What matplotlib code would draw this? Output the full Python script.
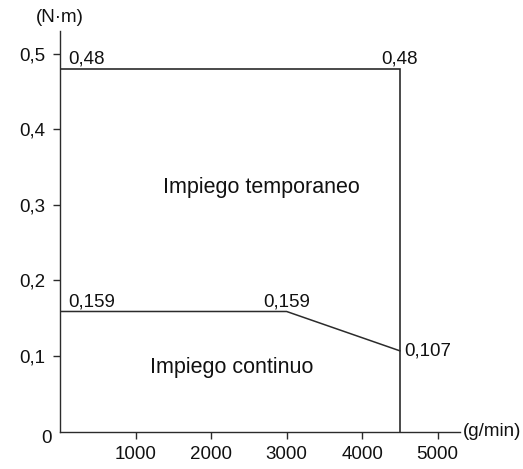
import matplotlib
matplotlib.use("Agg")
import matplotlib.pyplot as plt

plt.rcParams['font.family'] = ['Liberation Sans', 'DejaVu Sans']

# dati
vel_temp = [0, 4500, 4500]
coppia_temp = [0.48, 0.48, 0]
vel_cont = [0, 3000, 4500]
coppia_cont = [0.159, 0.159, 0.107]

x_ticks = [1000, 2000, 3000, 4000, 5000]
y_ticks = [0.1, 0.2, 0.3, 0.4, 0.5]
y_labels = ['0,1', '0,2', '0,3', '0,4', '0,5']

col = '#2b2b2b'
fs = 13.5

fig = plt.figure(figsize=(5.23, 4.69), dpi=100)
ax = fig.add_axes([60.2 / 523, 37.3 / 469, 400 / 523, 400.7 / 469])

ax.plot(vel_temp, coppia_temp, color=col, lw=1.2, solid_joinstyle='miter')
ax.plot(vel_cont, coppia_cont, color=col, lw=1.1)

ax.set_xlim(0, 5300)
ax.set_ylim(0, 0.53)

for s in ['top', 'right']:
    ax.spines[s].set_visible(False)
for s in ['left', 'bottom']:
    ax.spines[s].set_color(col)
    ax.spines[s].set_linewidth(1.0)

ax.set_xticks(x_ticks)
ax.set_xticklabels([str(t) for t in x_ticks])
ax.set_yticks(y_ticks)
ax.set_yticklabels(y_labels)
ax.tick_params(axis='both', direction='out', length=5, width=1.0, color=col,
               labelsize=fs, labelcolor='#111111')
ax.tick_params(axis='x', pad=5)
ax.tick_params(axis='y', pad=5.5)

# origine
ax.annotate('0', (0, 0), xytext=(-10, -5), textcoords='offset points',
            ha='center', va='center', fontsize=fs, color='#111111', annotation_clip=False)

# unità
ax.annotate('(N·m)', (0, 0.53), xytext=(0, 10), textcoords='offset points',
            ha='center', va='center', fontsize=fs, color='#111111', annotation_clip=False)
ax.annotate('(g/min)', (5300, 0), xytext=(2, 0), textcoords='offset points',
            ha='left', va='center', fontsize=fs, color='#111111', annotation_clip=False)

# valori
ax.annotate('0,48', (vel_temp[0], coppia_temp[0]), xytext=(6, 3.5), textcoords='offset points',
            ha='left', va='baseline', fontsize=fs, color='#111111')
ax.annotate('0,48', (vel_temp[1], coppia_temp[1]), xytext=(0, 3.5), textcoords='offset points',
            ha='center', va='baseline', fontsize=fs, color='#111111')
ax.annotate('0,159', (vel_cont[0], coppia_cont[0]), xytext=(6, 3.5), textcoords='offset points',
            ha='left', va='baseline', fontsize=fs, color='#111111')
ax.annotate('0,159', (vel_cont[1], coppia_cont[1]), xytext=(0, 3.5), textcoords='offset points',
            ha='center', va='baseline', fontsize=fs, color='#111111')
ax.annotate('0,107', (vel_cont[2], coppia_cont[2]), xytext=(3, 0), textcoords='offset points',
            ha='left', va='center', fontsize=fs, color='#111111', annotation_clip=False)

# zone
ax.text(2670, 0.323, 'Impiego temporaneo', ha='center', va='center', fontsize=15.5, color='#111111')
ax.text(2275, 0.085, 'Impiego continuo', ha='center', va='center', fontsize=15.5, color='#111111')

fig.savefig('out.png', dpi=100)
